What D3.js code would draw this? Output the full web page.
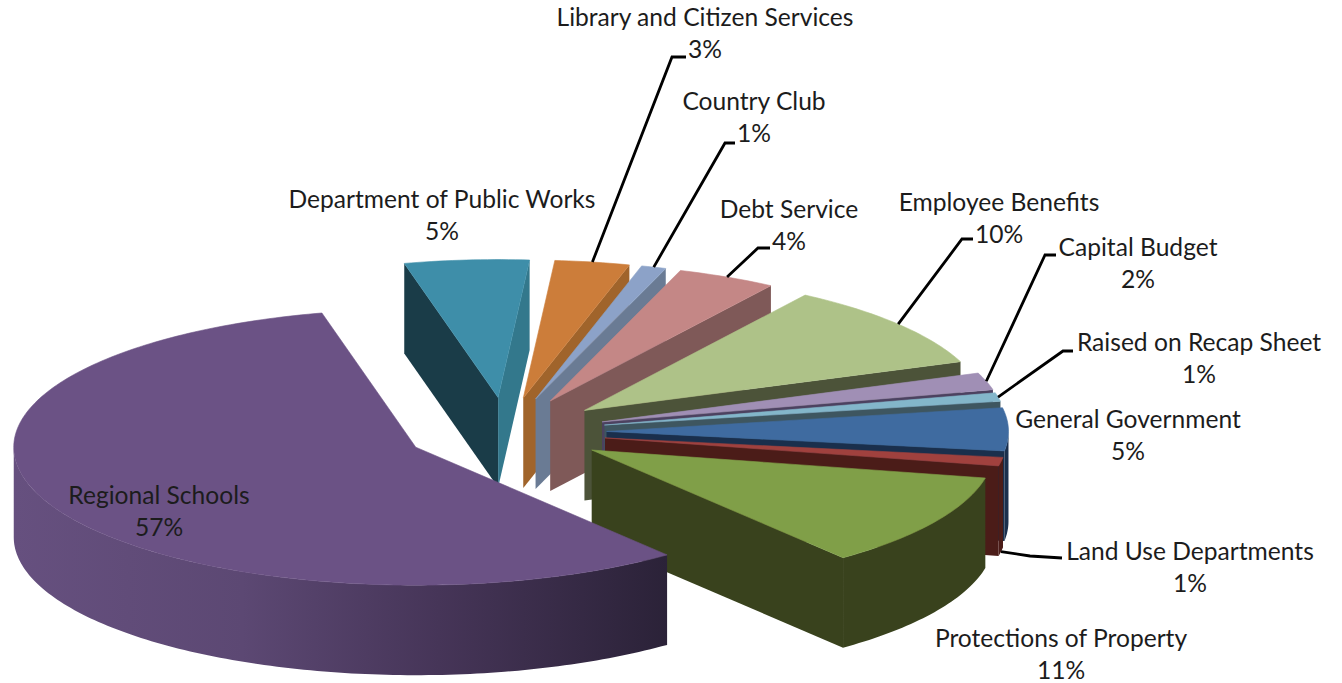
<!DOCTYPE html>
<html>
<head>
<meta charset="utf-8">
<style>
  html, body { margin: 0; padding: 0; background: #fff; }
  svg { display: block; }
  text { font-family: Lato, "Open Sans", sans-serif; fill: #1c1c1c; text-anchor: middle; }
</style>
<script src="https://cdnjs.cloudflare.com/ajax/libs/d3/7.8.5/d3.min.js"></script>
</head>
<body>
<svg id="chart" width="1342" height="683"></svg>
<script>
// Budget shares, clockwise from the slice at the back of the pie.
const categories = [
  "Department of Public Works", "Library and Citizen Services", "Country Club",
  "Debt Service", "Employee Benefits", "Capital Budget", "Raised on Recap Sheet",
  "General Government", "Land Use Departments", "Protections of Property", "Regional Schools"
];
const shares = [5, 3, 1, 4, 10, 2, 1, 5, 1, 11, 57];

// Colours per slice.
const topColors  = ["#3e8ea9", "#cc7d3a", "#8ca2c8", "#c48786", "#aec288", "#a08fb5", "#83b6ca", "#3f6ba0", "#a0413e", "#809f48", "#6b5285"];
const sideColors = ["#33788c", "#a0642b", "#6a7b94", "#7f5958", "#4c5339", "#4c4260", "#3e5660", "#1a2f4c", "#4b1c18", "#39421d", "#3a2d4a"];
const backLeftFace = "#1a3c48";

// Label placement: centre x and first baseline.
const labelX = [442, 705, 754, 789, 999, 1138, 1199, 1128, 1190, 1061, 159];
const labelY = [208, 26, 110, 218, 211, 256, 351, 428, 560, 647, 504];

// Leader lines: elbow and end point per slice (null where the label sits beside its slice).
const leaderElbow = [null, [672, 57], [725, 143], [758, 248], [962, 239], [1045, 255], [1063, 351], null, [1030, 556], null, null];
const leaderEnd   = [null, [686, 57], [735, 143], [770, 248], [973, 239], [1056, 255], [1073, 351], null, [1062, 558], null, null];
// Land Use is the one leader that leaves from the lower edge of the slice.
const leaderFromBase = categories.map(c => c === "Land Use Departments");

// Tilted-disc geometry.
const centreX = 506, centreY = 432, radiusX = 402, radiusY = 138, depth = 90, explode = 0.25;
const startDeg = -13.5;

const svg = d3.select("#chart");
const rad = d => d * Math.PI / 180;

const arcs = d3.pie().sort(null).startAngle(rad(startDeg)).endAngle(rad(startDeg + 360))(shares);

// Unit circle to screen offsets.
const sx = d3.scaleLinear().domain([-1, 1]).range([-radiusX, radiusX]);
const sy = d3.scaleLinear().domain([-1, 1]).range([-radiusY, radiusY]);

const apexOf = a => {
  const m = (a.startAngle + a.endAngle) / 2;
  return [centreX + sx(explode * Math.sin(m)), centreY + sy(-explode * Math.cos(m))];
};
const rimPoint = (a, t, drop = 0) => {
  const [ax, ay] = apexOf(a);
  return [ax + sx(Math.sin(t)), ay + sy(-Math.cos(t)) + drop];
};
const sampleAngles = (lo, hi) => {
  const n = Math.max(2, Math.ceil((hi - lo) / rad(1)));
  return d3.range(n + 1).map(i => lo + (hi - lo) * i / n);
};
const line = d3.line();

// Shading along the front wall of the largest slice.
const regional = arcs[arcs.length - 1];
const gradient = svg.append("defs").append("linearGradient")
  .attr("id", "regionalWall").attr("gradientUnits", "userSpaceOnUse")
  .attr("x1", rimPoint(regional, rad(270))[0]).attr("y1", 0)
  .attr("x2", rimPoint(regional, regional.startAngle)[0]).attr("y2", 0);
[[0, "#66507f"], [0.35, "#5c4873"], [0.65, "#463558"], [1, "#2b2238"]].forEach(([o, c]) =>
  gradient.append("stop").attr("offset", o).attr("stop-color", c));

const slices = svg.selectAll("g.slice").data(arcs).join("g").attr("class", "slice");

slices.each(function (a, i) {
  const g = d3.select(this);
  const apex = apexOf(a);
  const apexLow = [apex[0], apex[1] + depth];
  const side = i === arcs.length - 1 ? "url(#regionalWall)" : sideColors[i];

  // Cut face on the leading edge shows only for slices on the far left.
  const s = ((a.startAngle % (2 * Math.PI)) + 2 * Math.PI) % (2 * Math.PI);
  if (s > Math.PI) {
    g.append("path").attr("fill", backLeftFace).attr("d", line([
      rimPoint(a, a.startAngle), apex, apexLow, rimPoint(a, a.startAngle, depth)
    ]) + "Z");
  }
  // Cut face on the trailing edge shows for slices ending on the right.
  const e = ((a.endAngle % (2 * Math.PI)) + 2 * Math.PI) % (2 * Math.PI);
  if (e < Math.PI) {
    g.append("path").attr("fill", sideColors[i]).attr("d", line([
      apex, rimPoint(a, a.endAngle), rimPoint(a, a.endAngle, depth), apexLow
    ]) + "Z");
  }
  // Outer wall, front half of the disc only.
  const lo = Math.max(a.startAngle, rad(90)), hi = Math.min(a.endAngle, rad(270));
  if (hi > lo) {
    const angles = sampleAngles(lo, hi);
    const upper = angles.map(t => rimPoint(a, t));
    const lower = angles.slice().reverse().map(t => rimPoint(a, t, depth));
    g.append("path").attr("fill", side).attr("d", line(upper.concat(lower)) + "Z");
  }
  // Top surface, with a hairline of its own colour to close the seam against the wall.
  const rim = sampleAngles(a.startAngle, a.endAngle).map(t => rimPoint(a, t));
  g.append("path").attr("fill", topColors[i]).attr("stroke", topColors[i]).attr("stroke-width", 0.6)
    .attr("d", line([apex].concat(rim)) + "Z");
});

// Leader lines.
svg.append("g").selectAll("path").data(arcs.filter((a, i) => leaderElbow[i])).join("path")
  .attr("fill", "none").attr("stroke", "#000").attr("stroke-width", 2.8)
  .attr("d", a => {
    const m = (a.startAngle + a.endAngle) / 2;
    return line([rimPoint(a, m, leaderFromBase[a.index] ? depth : 0), leaderElbow[a.index], leaderEnd[a.index]]);
  });

// Two-line labels: name, then share.
const labels = svg.append("g").selectAll("g").data(categories).join("g");
labels.append("text").attr("font-size", 24.6)
  .attr("x", (d, i) => labelX[i]).attr("y", (d, i) => labelY[i]).text(d => d);
labels.append("text").attr("font-size", 24.6)
  .attr("x", (d, i) => labelX[i]).attr("y", (d, i) => labelY[i] + 32).text((d, i) => shares[i] + "%");
</script>
</body>
</html>
